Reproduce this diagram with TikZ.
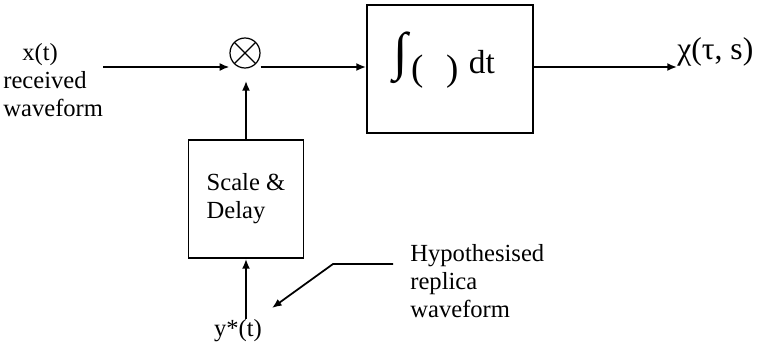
\documentclass[tikz,border=0pt]{standalone}
\usepackage{fontspec}
\setmainfont{Liberation Serif}
\usepackage{tikz}
\usetikzlibrary{arrows.meta,calc}

\begin{document}
\begin{tikzpicture}[x=0.02cm,y=-0.02cm,
  txt/.style={inner sep=0pt,font=\fontsize{14}{16}\selectfont},
  blk/.style={draw,line width=1.1pt,inner sep=0pt},
  sig/.style={line width=1pt,-{Latex[length=5.5pt,width=4.5pt]}},
  mix/.style={circle,draw,line width=0.7pt,minimum size=0.6cm,inner sep=0pt,
    path picture={\draw[line width=0.7pt]
      (path picture bounding box.north west) -- (path picture bounding box.south east)
      (path picture bounding box.north east) -- (path picture bounding box.south west);}}]
\useasboundingbox (0,0) rectangle (757,345);
\coordinate (lvl) at (0,67);
\node[txt,anchor=west,align=left] (xin) at (3,80) {\hspace{10.8pt}x(t)\\received\\waveform};
\node[mix] (mult) at (245,53) {};
\node[blk,minimum width=3.32cm,minimum height=2.56cm] (integ) at (450,69) {};
\node[txt,font=\fontsize{19}{20}\selectfont] (intlbl) at (444,60)
  {{\fontsize{30}{30}\selectfont\raisebox{2pt}{∫}}\hspace{2pt}{\fontsize{21}{21}\selectfont\raisebox{-4pt}{(\hspace{13pt})}}\hspace{6pt}dt};
\node[txt,anchor=south west,font=\fontsize{18}{19}\selectfont] (chi) at (677,67) {χ(τ, s)};
\node[blk,txt,align=left,minimum width=2.3cm,minimum height=2.36cm] (scale) at (246,199) {Scale \&\\Delay};
\node[txt] (ystar) at (238,331) {y*(t)};
\node[txt,anchor=north west,align=left] (hyp) at (410,244) {Hypothesised\\replica\\waveform};
\coordinate (bend) at (333,264);
\coordinate (ptr) at (272,308);
\draw[sig] (xin.east |- lvl) -- (mult.west |- lvl);
\draw[sig] (mult.east |- lvl) -- (integ.west |- lvl);
\draw[sig] (integ.east |- lvl) -- (chi.south west);
\draw[sig,shorten >=7pt] (scale.north) -- (scale.north |- mult.south);
\draw[sig] (scale.south |- ystar.north) -- (scale.south);
\draw[sig] ($(hyp.west |- bend)+(-17,0)$) -- (bend) -- (ptr);
\end{tikzpicture}
\end{document}
